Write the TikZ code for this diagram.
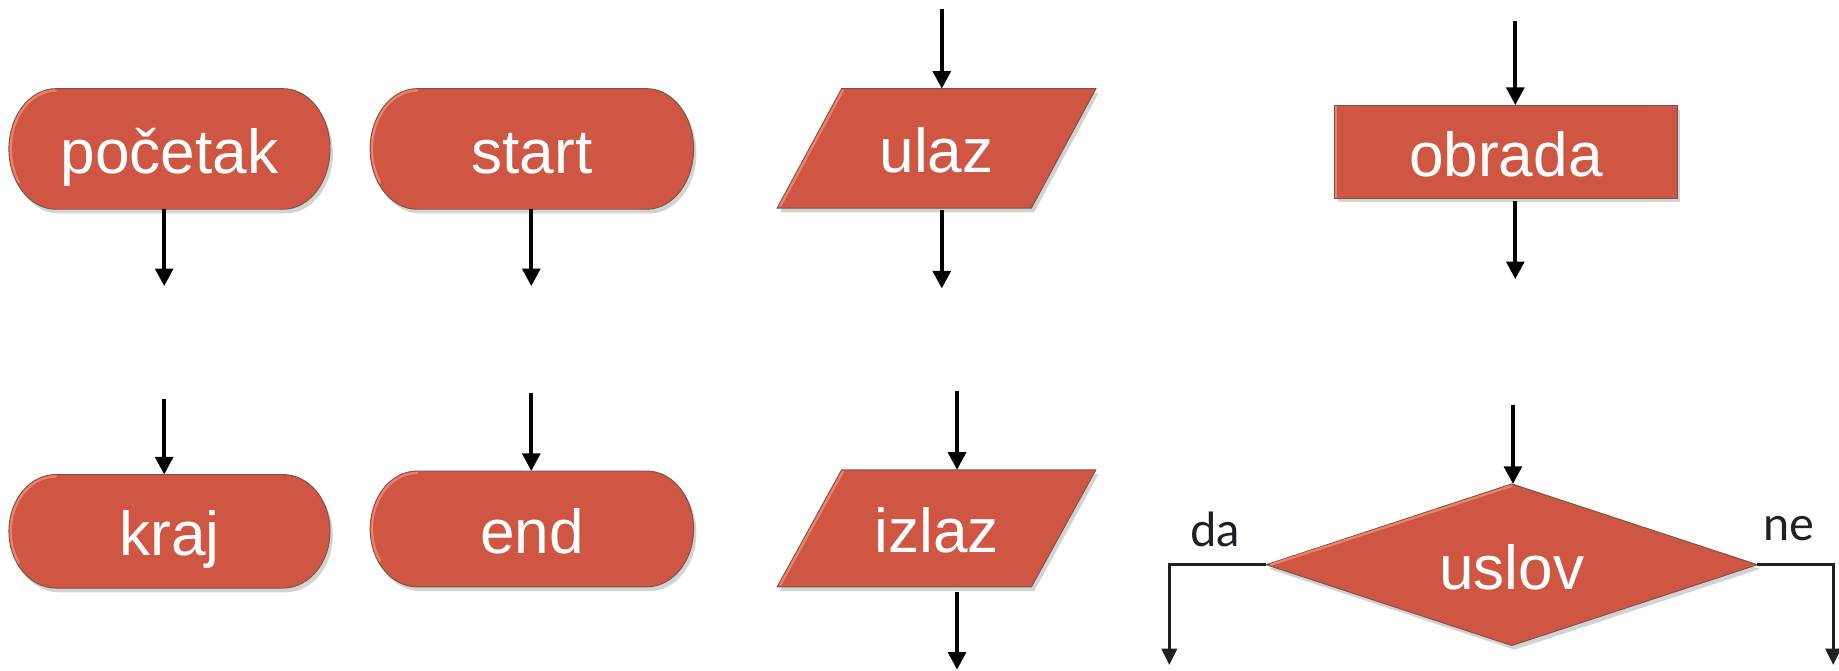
\documentclass[tikz,border=0pt]{standalone}
\usepackage{fontspec}
\setmainfont{Liberation Sans}
\newfontfamily\labfont{Lato}
\usetikzlibrary{arrows.meta,shadows,backgrounds,calc}
\definecolor{boxred}{RGB}{206,86,66}
\definecolor{boxlight}{RGB}{236,128,104}
\definecolor{edgegray}{RGB}{120,84,74}
\definecolor{labgray}{RGB}{30,32,38}
\tikzset{
 body/.style={inner sep=0pt, font=\fontsize{26.5}{30}\selectfont, text=white,
   text height=21pt, text depth=0pt},
 shapefill/.style={fill=boxred, draw=edgegray, line width=0.4pt,
   drop shadow={shadow xshift=1.2pt, shadow yshift=-1.8pt, opacity=0.35}},
 bevel/.style={draw=boxlight, line width=1pt, line cap=round},
 arr/.style={line width=1.7pt, -{Triangle[width=7.5pt,length=7.5pt]}},
 branch/.style={line width=1.3pt, draw=labgray, -{Triangle[width=6.5pt,length=7pt]}},
 lab/.style={font=\labfont\fontsize{20}{22}\selectfont, text=labgray, inner sep=0pt},
}
\newcommand{\termfill}[1]{%
 \path[shapefill] let \p1=(#1.north), \p2=(#1.south), \n1={(\y1-\y2)/2} in
  ($(#1.north west)+(20pt,0)$) -- ($(#1.north east)+(-20pt,0)$)
  arc[start angle=90,end angle=-90,x radius=20pt,y radius=\n1]
  -- ($(#1.south west)+(20pt,0)$)
  arc[start angle=270,end angle=90,x radius=20pt,y radius=\n1] -- cycle;
 \path[bevel] let \p1=(#1.north), \p2=(#1.south), \n1={(\y1-\y2)/2-0.8pt} in
  ($(#1.north west)+(20pt,-0.8pt)$)
  arc[start angle=90,end angle=215,x radius=19.2pt,y radius=\n1];}
\newcommand{\parafill}[1]{%
 \path[shapefill] ($(#1.north west)+(27.5pt,0)$) -- (#1.north east)
  -- ($(#1.south east)+(-27.5pt,0)$) -- (#1.south west) -- cycle;
 \path[bevel] ($(#1.north west)+(28pt,-0.8pt)$) -- ($(#1.south west)+(1.3pt,0.8pt)$);}
\begin{document}
\begin{tikzpicture}[x=0.5pt,y=0.5pt]
\useasboundingbox (0,0) rectangle (1568,-572);

% terminals
\node[body, minimum width=136.5pt, minimum height=51pt] (poc) at (144.5,-127) {početak};
\node[body, minimum width=137.5pt, minimum height=51pt] (sta) at (453.5,-127) {start};
\node[body, minimum width=136.5pt, minimum height=48pt] (kra) at (144.5,-453) {kraj};
\node[body, minimum width=137.5pt, minimum height=49pt] (end) at (453.5,-451) {end};
% input / output
\node[body, minimum width=135.5pt, minimum height=50.5pt] (ula) at (798.5,-126.5) {ulaz};
\node[body, minimum width=135.5pt, minimum height=49.5pt] (izl) at (798.5,-450.5) {izlaz};
% process
\node[body, shapefill, minimum width=146pt, minimum height=39.5pt] (obr) at (1284,-129.5) {obrada};
% decision
\node[body, minimum width=209pt, minimum height=68.5pt] (usl) at (1289,-481.5) {uslov};

\begin{scope}[on background layer]
\termfill{poc}
\termfill{sta}
\termfill{kra}
\termfill{end}
\parafill{ula}
\parafill{izl}
\path[shapefill] (usl.north) -- (usl.east) -- (usl.south) -- (usl.west) -- cycle;
\path[bevel] ($(usl.west)+(2pt,0)$) -- ($(usl.north)+(0,-0.8pt)$);
\end{scope}
\path[bevel] ($(obr.north west)+(0.7pt,-0.7pt)$) -- ($(obr.south west)+(0.7pt,0.7pt)$);

% free ends
\coordinate (poc-out) at (140,-244);
\coordinate (sta-out) at (453,-244);
\coordinate (kra-in) at (140,-340);
\coordinate (end-in) at (453,-335);
\coordinate (ula-in) at (803,-8);
\coordinate (ula-out) at (803,-246);
\coordinate (izl-in) at (816,-333);
\coordinate (izl-out) at (816,-571);
\coordinate (obr-in) at (1292,-18);
\coordinate (obr-out) at (1292,-238);
\coordinate (usl-in) at (1290,-345);
\coordinate (da-end) at (997,-567);
\coordinate (ne-end) at (1563,-567);

\draw[arr] (poc-out |- poc.south) -- (poc-out);
\draw[arr] (sta-out |- sta.south) -- (sta-out);
\draw[arr] (kra-in) -- (kra-in |- kra.north);
\draw[arr] (end-in) -- (end-in |- end.north);
\draw[arr] (ula-in) -- (ula-in |- ula.north);
\draw[arr] ([yshift=-1pt]ula-out |- ula.south) -- (ula-out);
\draw[arr] (izl-in) -- (izl-in |- izl.north);
\draw[arr] ([yshift=-2pt]izl-out |- izl.south) -- (izl-out);
\draw[arr] (obr-in) -- (obr-in |- obr.north);
\draw[arr] ([yshift=-1pt]obr-out |- obr.south) -- (obr-out);
\draw[arr] (usl-in) -- (usl-in |- usl.north);
\draw[branch] (usl.west) -| (da-end);
\draw[branch] (usl.east) -| (ne-end);

\node[lab] (da) at (1036,-451) {da};
\node[lab] (ne) at (1525,-451) {ne};
\end{tikzpicture}
\end{document}
